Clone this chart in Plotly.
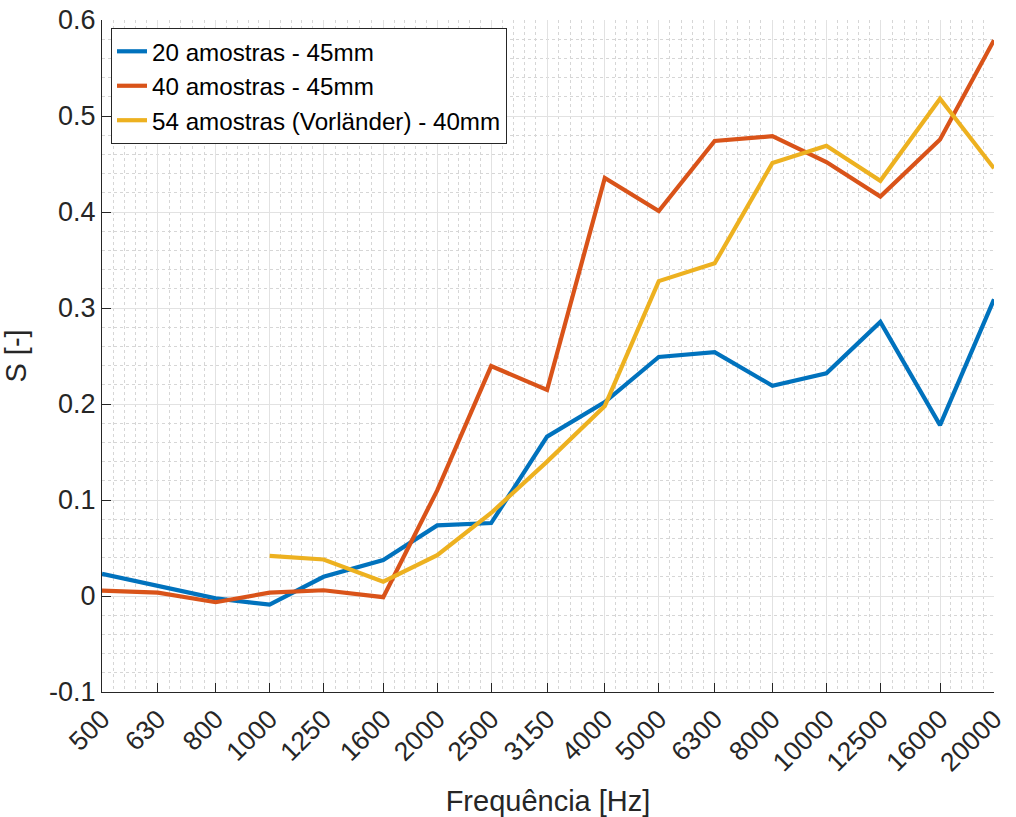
import plotly.graph_objects as go
import numpy as np

freqs = [500, 630, 800, 1000, 1250, 1600, 2000, 2500, 3150, 4000, 5000,
         6300, 8000, 10000, 12500, 16000, 20000]
freq_labels = [str(f) for f in freqs]

s_20_45 = [0.023, 0.0105, -0.0025, -0.009, 0.020, 0.0375, 0.0735, 0.076,
           0.166, 0.202, 0.249, 0.254, 0.219, 0.232, 0.2855, 0.178, 0.309]
s_40_45 = [0.0055, 0.0035, -0.0065, 0.0035, 0.006, -0.0012, 0.110, 0.2395,
           0.2146, 0.4355, 0.401, 0.474, 0.479, 0.452, 0.416, 0.4755, 0.579]
freqs_54 = [1000, 1250, 1600, 2000, 2500, 3150, 4000, 5000, 6300, 8000,
            10000, 12500, 16000, 20000]
s_54_40 = [0.0417, 0.038, 0.015, 0.0425, 0.0865, 0.140, 0.198, 0.328,
           0.3465, 0.451, 0.469, 0.4325, 0.518, 0.4455]

y_ticks = [-0.1, 0, 0.1, 0.2, 0.3, 0.4, 0.5, 0.6]
y_ticktext = ["-0.1", "0", "0.1", "0.2", "0.3", "0.4", "0.5", "0.6"]

names = ["20 amostras - 45mm", "40 amostras - 45mm",
         "54 amostras (Vorländer) - 40mm"]
colors = ["#0072BD", "#D95319", "#EDB120"]

# minor grid positions: 4 geometric subdivisions between ticks
x_minor = []
for a, b in zip(freqs[:-1], freqs[1:]):
    for k in range(1, 5):
        x_minor.append(a * (b / a) ** (k / 5))
y_minor = [round(v, 3) for v in np.arange(-0.1, 0.6001, 0.02)
           if abs(round(v * 10) - v * 10) > 1e-6]

fig = go.Figure()
for xs, ys, name, c in [(freqs, s_20_45, names[0], colors[0]),
                        (freqs, s_40_45, names[1], colors[1]),
                        (freqs_54, s_54_40, names[2], colors[2])]:
    fig.add_trace(go.Scatter(x=xs, y=ys, mode="lines", name=name,
                             line=dict(color=c, width=4.2)))

axis_color = "#262626"
font_family = "Liberation Sans, Arial, Helvetica, sans-serif"

fig.update_layout(
    width=1016, height=817,
    margin=dict(l=102, r=22, t=20, b=125, autoexpand=False),
    paper_bgcolor="white", plot_bgcolor="white",
    font=dict(family=font_family, color=axis_color, size=26),
    showlegend=True,
    legend=dict(
        x=0.0101, y=0.988, xanchor="left", yanchor="top",
        bgcolor="white", bordercolor=axis_color, borderwidth=1,
        font=dict(size=24.2, color="black"),
        tracegroupgap=0, itemwidth=30,
    ),
    xaxis=dict(
        type="log", automargin=False,
        range=[np.log10(freqs[0]), np.log10(freqs[-1])],
        tickmode="array", tickvals=freqs, ticktext=freq_labels,
        tickangle=-45, ticklabeloverflow="allow",
        ticks="inside", ticklen=9, tickcolor=axis_color, tickwidth=1,
        showline=True, linecolor=axis_color, linewidth=1,
        showgrid=True, gridcolor="#e2e2e2", gridwidth=1,
        zeroline=False,
        tickfont=dict(size=26.5, color=axis_color),
        title=dict(text="Frequência [Hz]", font=dict(size=29, color=axis_color),
                   standoff=14),
        minor=dict(tickmode="array", tickvals=x_minor, showgrid=True,
                   gridcolor="#d6d6d6", griddash="dot", gridwidth=1, ticks=""),
    ),
    yaxis=dict(
        automargin=False,
        range=[-0.1, 0.6],
        tickmode="array", tickvals=y_ticks, ticktext=y_ticktext,
        ticklabeloverflow="allow",
        ticks="inside", ticklen=9, tickcolor=axis_color, tickwidth=1,
        showline=True, linecolor=axis_color, linewidth=1,
        showgrid=True, gridcolor="#e2e2e2", gridwidth=1,
        zeroline=False,
        tickfont=dict(size=27, color=axis_color),
        title=dict(text="S [-]", font=dict(size=29, color=axis_color),
                   standoff=14),
        minor=dict(tickmode="array", tickvals=y_minor, showgrid=True,
                   gridcolor="#d6d6d6", griddash="dot", gridwidth=1, ticks=""),
    ),
)

fig.write_html("out.html",
               config={"displayModeBar": False},
               post_script="document.body.style.margin='0';"
                           "document.body.style.overflow='hidden';")
